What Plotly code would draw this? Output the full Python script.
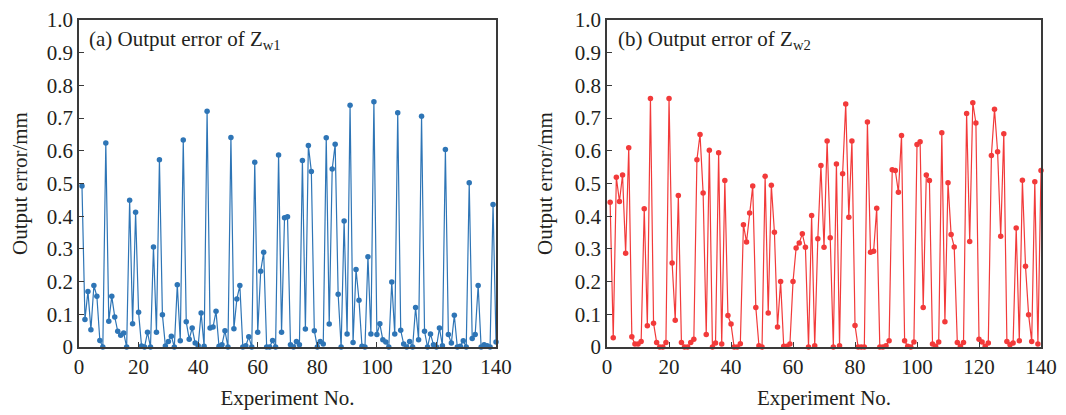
import plotly.graph_objects as go
from plotly.subplots import make_subplots

# numero de experimento
experimentos = list(range(1, 141))

# error de salida Zw1 (mm)
error_zw1 = [
    0.492, 0.084, 0.170, 0.053, 0.188, 0.155, 0.020, 0.000, 0.624, 0.079,
    0.155, 0.092, 0.048, 0.036, 0.043, 0.000, 0.449, 0.071, 0.412, 0.106,
    0.003, 0.000, 0.045, 0.000, 0.306, 0.045, 0.573, 0.099, 0.003, 0.017,
    0.033, 0.000, 0.190, 0.019, 0.633, 0.077, 0.024, 0.058, 0.012, 0.004,
    0.104, 0.002, 0.721, 0.058, 0.061, 0.109, 0.002, 0.007, 0.050, 0.000,
    0.641, 0.056, 0.147, 0.188, 0.000, 0.004, 0.031, 0.000, 0.565, 0.045,
    0.232, 0.290, 0.000, 0.000, 0.020, 0.000, 0.587, 0.045, 0.395, 0.398,
    0.007, 0.000, 0.017, 0.007, 0.570, 0.055, 0.616, 0.537, 0.050, 0.000,
    0.017, 0.009, 0.640, 0.070, 0.544, 0.620, 0.161, 0.000, 0.385, 0.040,
    0.739, 0.014, 0.237, 0.143, 0.002, 0.000, 0.276, 0.040, 0.750, 0.038,
    0.071, 0.022, 0.015, 0.000, 0.199, 0.040, 0.716, 0.051, 0.009, 0.000,
    0.017, 0.000, 0.121, 0.022, 0.706, 0.048, 0.000, 0.040, 0.007, 0.000,
    0.058, 0.004, 0.604, 0.038, 0.012, 0.097, 0.000, 0.002, 0.019, 0.000,
    0.502, 0.026, 0.038, 0.188, 0.000, 0.007, 0.004, 0.000, 0.436, 0.015,
]

# error de salida Zw2 (mm)
error_zw2 = [
    0.443, 0.028, 0.519, 0.445, 0.526, 0.287, 0.609, 0.031, 0.009, 0.009,
    0.017, 0.423, 0.065, 0.760, 0.073, 0.014, 0.000, 0.000, 0.014, 0.760,
    0.257, 0.082, 0.463, 0.014, 0.000, 0.000, 0.014, 0.024, 0.573, 0.650,
    0.471, 0.038, 0.602, 0.000, 0.012, 0.594, 0.009, 0.509, 0.096, 0.070,
    0.000, 0.000, 0.010, 0.374, 0.321, 0.410, 0.492, 0.121, 0.004, 0.000,
    0.522, 0.104, 0.495, 0.351, 0.061, 0.200, 0.002, 0.002, 0.009, 0.200,
    0.303, 0.318, 0.346, 0.305, 0.000, 0.402, 0.004, 0.331, 0.555, 0.305,
    0.630, 0.334, 0.000, 0.560, 0.004, 0.530, 0.743, 0.397, 0.630, 0.066,
    0.000, 0.000, 0.000, 0.688, 0.290, 0.293, 0.424, 0.000, 0.000, 0.004,
    0.019, 0.542, 0.540, 0.473, 0.647, 0.019, 0.002, 0.000, 0.015, 0.619,
    0.628, 0.121, 0.526, 0.509, 0.009, 0.002, 0.015, 0.655, 0.077, 0.502,
    0.344, 0.306, 0.014, 0.002, 0.014, 0.714, 0.323, 0.747, 0.685, 0.024,
    0.015, 0.002, 0.012, 0.586, 0.727, 0.597, 0.339, 0.652, 0.017, 0.007,
    0.012, 0.364, 0.019, 0.510, 0.247, 0.099, 0.017, 0.505, 0.009, 0.540,
]

x_ticks = [0, 20, 40, 60, 80, 100, 120, 140]
y_ticks = [0, 0.1, 0.2, 0.3, 0.4, 0.5, 0.6, 0.7, 0.8, 0.9, 1.0]
y_labels = ["0", "0.1", "0.2", "0.3", "0.4", "0.5", "0.6", "0.7", "0.8", "0.9", "1.0"]
titulos = ["(a) Output error of Z<sub>w1</sub>", "(b) Output error of Z<sub>w2</sub>"]

FUENTE = "Liberation Serif, Times New Roman, serif"
TEXTO = "#231f20"
EJE = "#3a3a3a"
TAM = 21

fig = make_subplots(rows=1, cols=2)

series = [(error_zw1, "#2e75b6"), (error_zw2, "#f23a3a")]
for col, (valores, color) in enumerate(series, start=1):
    fig.add_trace(go.Scatter(
        x=experimentos, y=valores, mode="lines+markers",
        line=dict(color=color, width=1.2),
        marker=dict(color=color, size=5.5),
        cliponaxis=False, showlegend=False,
    ), row=1, col=col)

ejes_comunes = dict(
    showgrid=False, zeroline=False, showline=True, linecolor=EJE, linewidth=1.5,
    mirror=True, ticks="inside", ticklen=5, tickcolor=EJE, tickwidth=1.2,
    tickfont=dict(family=FUENTE, size=TAM, color=TEXTO), automargin=False,
)

# la pagina deja 8px de margen arriba/izquierda, se compensa aqui
dominios = [[0, 0.4335], [0.5489, 1.0]]
for col in (1, 2):
    fig.update_xaxes(
        range=[0, 140], tickvals=x_ticks, domain=dominios[col - 1],
        title=dict(text="Experiment No.", font=dict(family=FUENTE, size=TAM, color=TEXTO), standoff=12),
        **ejes_comunes, row=1, col=col,
    )
    fig.update_yaxes(
        range=[0, 1.0], tickvals=y_ticks, ticktext=y_labels,
        title=dict(text="Output error/mm", font=dict(family=FUENTE, size=TAM, color=TEXTO), standoff=16),
        **ejes_comunes, row=1, col=col,
    )

for i, texto in enumerate(titulos):
    xref = "x domain" if i == 0 else "x2 domain"
    yref = "y domain" if i == 0 else "y2 domain"
    fig.add_annotation(
        text=texto, xref=xref, yref=yref, x=0.02, y=0.985,
        xanchor="left", yanchor="top", showarrow=False,
        font=dict(family=FUENTE, size=TAM, color=TEXTO),
    )

fig.update_layout(
    width=1058, height=407,
    margin=dict(l=71, r=25, t=12, b=68),
    plot_bgcolor="white", paper_bgcolor="white",
)

fig.write_html("out.html")
